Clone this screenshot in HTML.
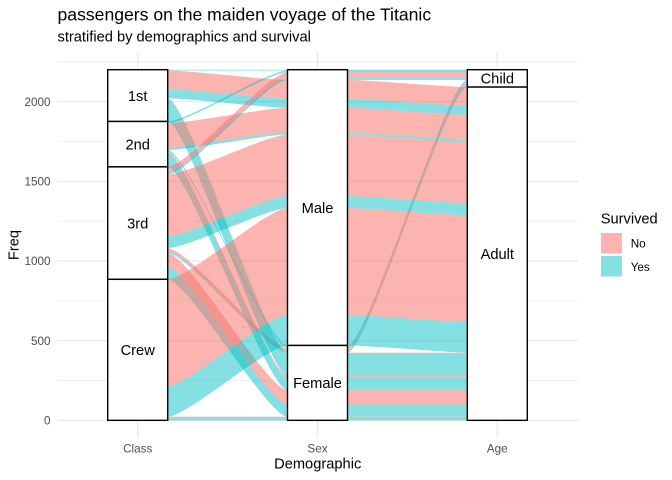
<!DOCTYPE html>
<html>
<head>
<meta charset="utf-8">
<style>
  html, body { margin: 0; padding: 0; background: #ffffff; }
  svg { display: block; }
  text { font-family: "Liberation Sans", Arial, sans-serif; }
</style>
</head>
<body>
<svg width="672" height="480" viewBox="0 0 672 480" xmlns="http://www.w3.org/2000/svg">
  <rect x="0" y="0" width="672" height="480" fill="#ffffff"/>

  <!-- minor gridlines -->
  <g stroke="#EBEBEB" stroke-width="0.7" fill="none">
    <line x1="57.3" x2="578.2" y1="380.5" y2="380.5"/>
    <line x1="57.3" x2="578.2" y1="300.85" y2="300.85"/>
    <line x1="57.3" x2="578.2" y1="221.2" y2="221.2"/>
    <line x1="57.3" x2="578.2" y1="141.55" y2="141.55"/>
    <line x1="57.3" x2="578.2" y1="61.9" y2="61.9"/>
  </g>
  <!-- major gridlines -->
  <g stroke="#EBEBEB" stroke-width="1.4" fill="none">
    <line x1="57.3" x2="578.2" y1="420.33" y2="420.33"/>
    <line x1="57.3" x2="578.2" y1="340.68" y2="340.68"/>
    <line x1="57.3" x2="578.2" y1="261.03" y2="261.03"/>
    <line x1="57.3" x2="578.2" y1="181.38" y2="181.38"/>
    <line x1="57.3" x2="578.2" y1="101.73" y2="101.73"/>
    <line x1="137.7" x2="137.7" y1="52.1" y2="437.8"/>
    <line x1="317.5" x2="317.5" y1="52.1" y2="437.8"/>
    <line x1="497.3" x2="497.3" y1="52.1" y2="437.8"/>
  </g>

  <!-- alluvia -->
  <g stroke="none">
    <path fill="#00BFC4" fill-opacity="0.48" d="M107.7,69.7H527.3V70.5H107.7Z"/>
    <path fill="#F8766D" fill-opacity="0.55" d="M107.7,70.5H167.7C187.7,70.5 267.5,79.9 287.5,79.9H347.5C367.5,79.9 447.3,87.06 467.3,87.06H527.3V105.86H467.3C447.3,105.86 367.5,98.69 347.5,98.69H287.5C267.5,98.69 187.7,89.29 167.7,89.29H107.7Z"/>
    <path fill="#00BFC4" fill-opacity="0.48" d="M107.7,89.29H167.7C187.7,89.29 267.5,98.69 287.5,98.69H347.5C367.5,98.69 447.3,105.86 467.3,105.86H527.3V114.94H467.3C447.3,114.94 367.5,107.77 347.5,107.77H287.5C267.5,107.77 187.7,98.37 167.7,98.37H107.7Z"/>
    <path fill="#00BFC4" fill-opacity="0.48" d="M107.7,98.37H167.7C187.7,98.37 267.5,345.45 287.5,345.45H347.5C367.5,345.45 447.3,79.9 467.3,79.9H527.3V80.05H467.3C447.3,80.05 367.5,345.61 347.5,345.61H287.5C267.5,345.61 187.7,98.53 167.7,98.53H107.7Z"/>
    <path fill="#F8766D" fill-opacity="0.55" d="M107.7,98.53H167.7C187.7,98.53 267.5,352.62 287.5,352.62H527.3V353.25H287.5C267.5,353.25 187.7,99.17 167.7,99.17H107.7Z"/>
    <path fill="#00BFC4" fill-opacity="0.48" d="M107.7,99.17H167.7C187.7,99.17 267.5,353.25 287.5,353.25H527.3V375.56H287.5C267.5,375.56 187.7,121.47 167.7,121.47H107.7Z"/>
    <path fill="#00BFC4" fill-opacity="0.48" d="M107.7,121.47H167.7C187.7,121.47 267.5,70.5 287.5,70.5H527.3V72.25H287.5C267.5,72.25 187.7,123.22 167.7,123.22H107.7Z"/>
    <path fill="#F8766D" fill-opacity="0.55" d="M107.7,123.22H167.7C187.7,123.22 267.5,107.77 287.5,107.77H347.5C367.5,107.77 447.3,114.94 467.3,114.94H527.3V139.47H467.3C447.3,139.47 367.5,132.3 347.5,132.3H287.5C267.5,132.3 187.7,147.76 167.7,147.76H107.7Z"/>
    <path fill="#00BFC4" fill-opacity="0.48" d="M107.7,147.76H167.7C187.7,147.76 267.5,132.3 287.5,132.3H347.5C367.5,132.3 447.3,139.47 467.3,139.47H527.3V141.7H467.3C447.3,141.7 367.5,134.54 347.5,134.54H287.5C267.5,134.54 187.7,149.99 167.7,149.99H107.7Z"/>
    <path fill="#00BFC4" fill-opacity="0.48" d="M107.7,149.99H167.7C187.7,149.99 267.5,345.61 287.5,345.61H347.5C367.5,345.61 447.3,80.05 467.3,80.05H527.3V82.13H467.3C447.3,82.13 367.5,347.68 347.5,347.68H287.5C267.5,347.68 187.7,152.06 167.7,152.06H107.7Z"/>
    <path fill="#F8766D" fill-opacity="0.55" d="M107.7,152.06H167.7C187.7,152.06 267.5,375.56 287.5,375.56H527.3V377.63H287.5C267.5,377.63 187.7,154.13 167.7,154.13H107.7Z"/>
    <path fill="#00BFC4" fill-opacity="0.48" d="M107.7,154.13H167.7C187.7,154.13 267.5,377.63 287.5,377.63H527.3V390.37H287.5C267.5,390.37 187.7,166.87 167.7,166.87H107.7Z"/>
    <path fill="#F8766D" fill-opacity="0.55" d="M107.7,166.87H167.7C187.7,166.87 267.5,72.25 287.5,72.25H527.3V77.82H287.5C267.5,77.82 187.7,172.45 167.7,172.45H107.7Z"/>
    <path fill="#00BFC4" fill-opacity="0.48" d="M107.7,172.45H167.7C187.7,172.45 267.5,77.82 287.5,77.82H527.3V79.9H287.5C267.5,79.9 187.7,174.52 167.7,174.52H107.7Z"/>
    <path fill="#F8766D" fill-opacity="0.55" d="M107.7,174.52H167.7C187.7,174.52 267.5,134.54 287.5,134.54H347.5C367.5,134.54 447.3,141.7 467.3,141.7H527.3V203.35H467.3C447.3,203.35 367.5,196.18 347.5,196.18H287.5C267.5,196.18 187.7,236.17 167.7,236.17H107.7Z"/>
    <path fill="#00BFC4" fill-opacity="0.48" d="M107.7,236.17H167.7C187.7,236.17 267.5,196.18 287.5,196.18H347.5C367.5,196.18 447.3,203.35 467.3,203.35H527.3V215.3H467.3C447.3,215.3 367.5,208.13 347.5,208.13H287.5C267.5,208.13 187.7,248.12 167.7,248.12H107.7Z"/>
    <path fill="#F8766D" fill-opacity="0.55" d="M107.7,248.12H167.7C187.7,248.12 267.5,347.68 287.5,347.68H347.5C367.5,347.68 447.3,82.13 467.3,82.13H527.3V84.83H467.3C447.3,84.83 367.5,350.39 347.5,350.39H287.5C267.5,350.39 187.7,250.82 167.7,250.82H107.7Z"/>
    <path fill="#00BFC4" fill-opacity="0.48" d="M107.7,250.82H167.7C187.7,250.82 267.5,350.39 287.5,350.39H347.5C367.5,350.39 447.3,84.83 467.3,84.83H527.3V87.06H467.3C447.3,87.06 367.5,352.62 347.5,352.62H287.5C267.5,352.62 187.7,253.05 167.7,253.05H107.7Z"/>
    <path fill="#F8766D" fill-opacity="0.55" d="M107.7,253.05H167.7C187.7,253.05 267.5,390.37 287.5,390.37H527.3V404.55H287.5C267.5,404.55 187.7,267.23 167.7,267.23H107.7Z"/>
    <path fill="#00BFC4" fill-opacity="0.48" d="M107.7,267.23H167.7C187.7,267.23 267.5,404.55 287.5,404.55H527.3V416.66H287.5C267.5,416.66 187.7,279.34 167.7,279.34H107.7Z"/>
    <path fill="#F8766D" fill-opacity="0.55" d="M107.7,279.34H167.7C187.7,279.34 267.5,208.13 287.5,208.13H347.5C367.5,208.13 447.3,215.3 467.3,215.3H527.3V322.03H467.3C447.3,322.03 367.5,314.86 347.5,314.86H287.5C267.5,314.86 187.7,386.07 167.7,386.07H107.7Z"/>
    <path fill="#00BFC4" fill-opacity="0.48" d="M107.7,386.07H167.7C187.7,386.07 267.5,314.86 287.5,314.86H347.5C367.5,314.86 447.3,322.03 467.3,322.03H527.3V352.62H467.3C447.3,352.62 367.5,345.45 347.5,345.45H287.5C267.5,345.45 187.7,416.66 167.7,416.66H107.7Z"/>
    <path fill="#F8766D" fill-opacity="0.55" d="M107.7,416.66H527.3V417.13H107.7Z"/>
    <path fill="#00BFC4" fill-opacity="0.48" d="M107.7,417.13H527.3V420.33H107.7Z"/>
  </g>

  <!-- strata -->
  <g fill="#ffffff" stroke="#000000" stroke-width="1.4">
    <rect x="107.7" y="69.7" width="60" height="51.77"/>
    <rect x="107.7" y="121.47" width="60" height="45.4"/>
    <rect x="107.7" y="166.87" width="60" height="112.47"/>
    <rect x="107.7" y="279.34" width="60" height="140.99"/>
    <rect x="287.5" y="69.7" width="60" height="275.75"/>
    <rect x="287.5" y="345.45" width="60" height="74.88"/>
    <rect x="467.3" y="69.7" width="60" height="17.36"/>
    <rect x="467.3" y="87.06" width="60" height="333.27"/>
  </g>

  <!-- stratum labels -->
  <g font-size="14.67" fill="#000000" text-anchor="middle">
    <text x="137.7" y="100.8">1st</text>
    <text x="137.7" y="149.4">2nd</text>
    <text x="137.7" y="228.3">3rd</text>
    <text x="137.7" y="355.0">Crew</text>
    <text x="317.5" y="212.8">Male</text>
    <text x="317.5" y="388.1">Female</text>
    <text x="497.3" y="83.6">Child</text>
    <text x="497.3" y="258.9">Adult</text>
  </g>

  <!-- y tick labels -->
  <g font-size="11.7" fill="#4D4D4D" text-anchor="end">
    <text x="50.5" y="424.5">0</text>
    <text x="50.5" y="344.9">500</text>
    <text x="50.5" y="265.2">1000</text>
    <text x="50.5" y="185.6">1500</text>
    <text x="50.5" y="105.9">2000</text>
  </g>

  <!-- x tick labels -->
  <g font-size="11.7" fill="#4D4D4D" text-anchor="middle">
    <text x="137.7" y="452.7">Class</text>
    <text x="317.5" y="452.7">Sex</text>
    <text x="497.3" y="452.7">Age</text>
  </g>

  <!-- axis titles -->
  <text x="317.7" y="468.5" font-size="14.67" fill="#000000" text-anchor="middle">Demographic</text>
  <text transform="translate(18.5,245) rotate(-90)" x="0" y="0" font-size="14.67" fill="#000000" text-anchor="middle">Freq</text>

  <!-- title / subtitle -->
  <text x="57.5" y="20.7" font-size="17.6" fill="#000000">passengers on the maiden voyage of the Titanic</text>
  <text x="57.5" y="41.7" font-size="14.67" fill="#000000">stratified by demographics and survival</text>

  <!-- legend -->
  <text x="600.7" y="223.3" font-size="14.67" fill="#000000">Survived</text>
  <rect x="600.9" y="233" width="21" height="20.5" fill="#F8766D" fill-opacity="0.55"/>
  <rect x="600.9" y="256" width="21" height="20.5" fill="#00BFC4" fill-opacity="0.48"/>
  <text x="630.7" y="247.6" font-size="11.7" fill="#000000">No</text>
  <text x="630.7" y="270.8" font-size="11.7" fill="#000000">Yes</text>
</svg>
</body>
</html>
